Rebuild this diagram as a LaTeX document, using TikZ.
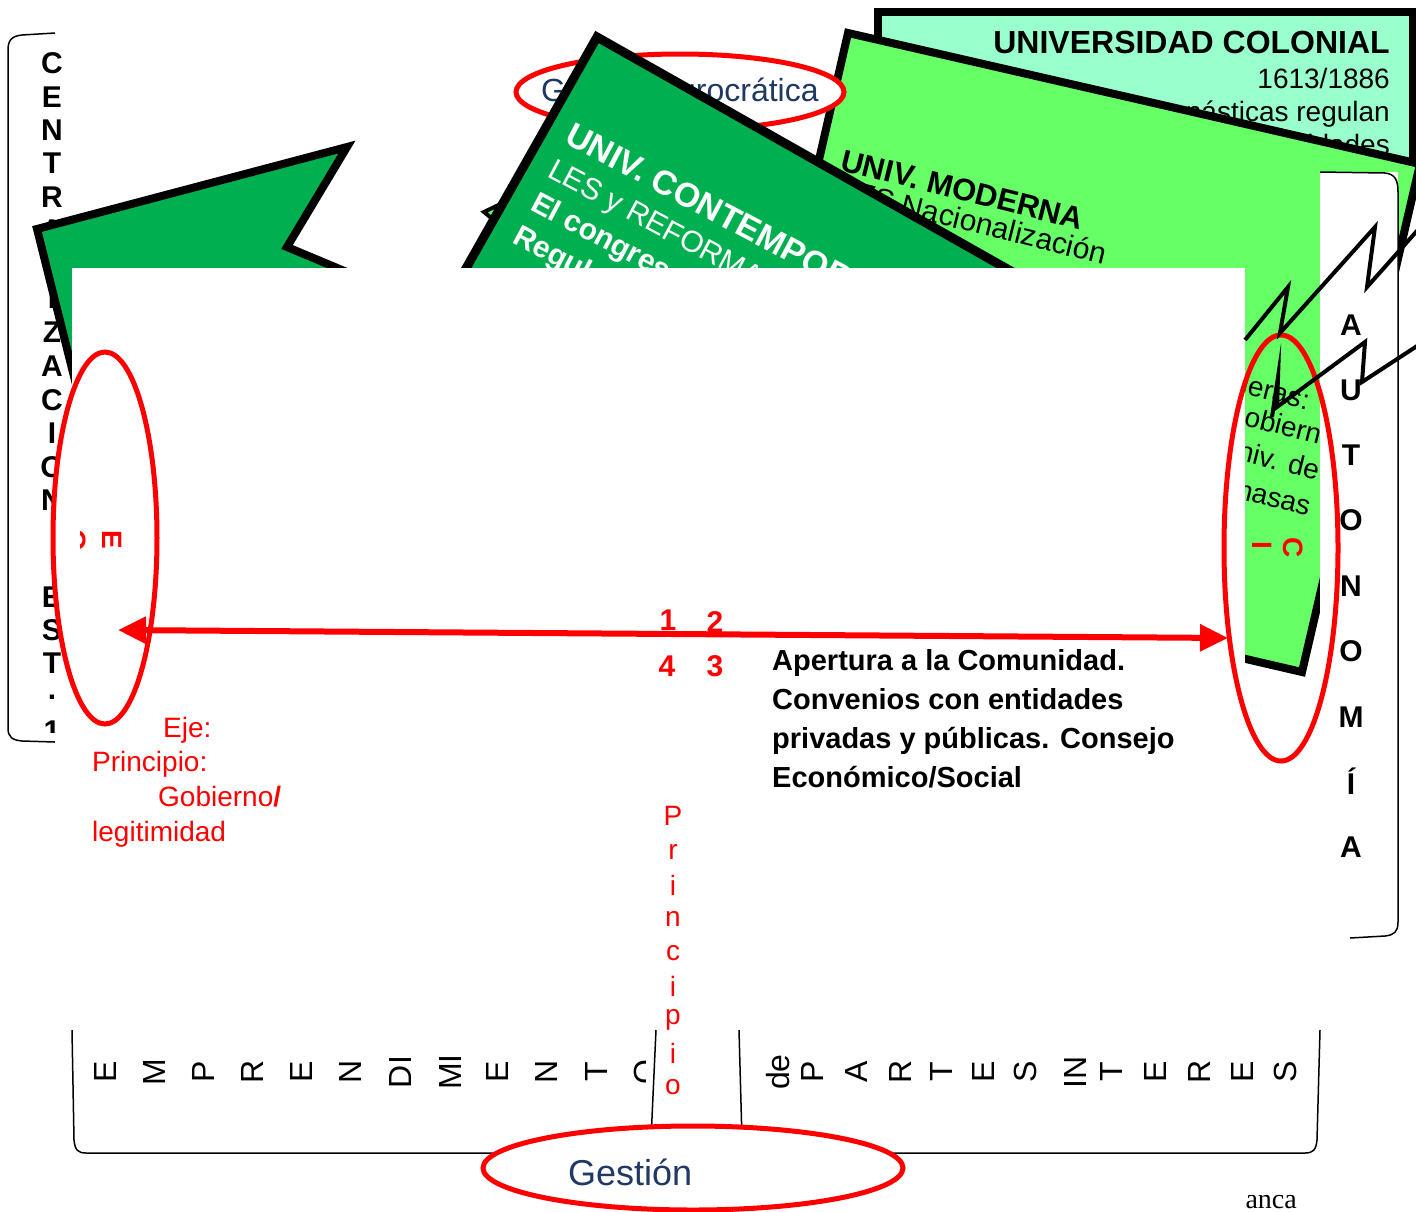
\documentclass[tikz,border=0pt]{standalone}
\usepackage{fontspec}
\setmainfont{Liberation Sans}
\newfontfamily\timesFont{Liberation Serif}
\usetikzlibrary{arrows.meta}

\definecolor{colonialGreen}{RGB}{153,255,204}
\definecolor{modernaGreen}{RGB}{102,255,102}
\definecolor{contempGreen}{RGB}{0,176,80}
\definecolor{gestionBlue}{RGB}{31,56,100}

\begin{document}
\begin{tikzpicture}[x=1pt,y=-1pt,%%
  cardDecorate/.style={draw=black,line width=8pt,line join=miter},%%
  ringDecorate/.style={draw=red,line width=5pt},%%
  bracketDecorate/.style={draw=black,line width=1.5pt},%%
  boltDecorate/.style={draw=black,line width=4pt,line join=miter,miter limit=25},%%
  arrowDecorate/.style={draw=red,line width=6pt,%%
    {Triangle[length=28pt,width=26pt]}-{Triangle[length=28pt,width=26pt]}},%%
  letterDecorate/.style={inner sep=0pt,font=\fontsize{30}{30}\selectfont\bfseries},%%
  lowLetterDecorate/.style={inner sep=0pt,rotate=90,font=\fontsize{32}{32}\selectfont},%%
  redDecorate/.style={inner sep=0pt,text=red,font=\fontsize{28}{28}\selectfont},%%
  cardText/.style={inner sep=0pt,font=\fontsize{28}{28}\selectfont}%%
]
\useasboundingbox (0,0) rectangle (1416,1211);
%%
%% Global variables.
\pgfmathsetmacro{\centX}{52}
\pgfmathsetmacro{\autoX}{1351}
\pgfmathsetmacro{\lowY}{1072}
\pgfmathsetmacro{\prinX}{673}
%%
%% Left bracket: centralizacion.
\draw[bracketDecorate] (55,33) -- (22,35) .. controls (12,36) and (8,40) .. (8,50)
  -- (8,728) .. controls (8,737) and (12,740) .. (22,741) -- (55,742);
\begin{scope}
\clip (0,0) rectangle (100,732);
\foreach \y/\ell in {63/C,97/E,130/N,163/T,197/R,230/A,264/L,298/I,332/Z,366/A,
  400/C,433/I,467/O,500/N,597/E,630/S,663/T,697/.,731/1} {
  \node[letterDecorate] (cent\y) at (\centX,\y) {\ell};
}
\end{scope}
%%
%% Universidad colonial.
\draw[cardDecorate,fill=colonialGreen] (878,12) rectangle (1413,168);
\node[cardText,anchor=base east,font=\fontsize{32}{32}\selectfont\bfseries]
  (colonialTitle) at (1390,53) {UNIVERSIDAD COLONIAL};
\node[cardText,anchor=base east] (colonialYear) at (1390,88) {1613/1886};
\node[cardText,anchor=base east] (colonialLineA) at (1390,121) {monásticas regulan};
\node[cardText,anchor=base east] (colonialLineB) at (1390,154) {universidades};
%%
%% Universidad moderna.
\draw[cardDecorate,fill=modernaGreen] (848,33) -- (1420,164) -- (1302,672) -- (732,540) -- cycle;
\node[cardText,anchor=base west,rotate=-14,font=\fontsize{31}{31}\selectfont\bfseries]
  (modernaTitle) at (839,170) {UNIV. MODERNA};
\node[cardText,anchor=base east,rotate=-14,font=\fontsize{30}{30}\selectfont]
  (modernaLineA) at (1104,265) {LES Nacionalización};
\node[cardText,anchor=base west,rotate=-14,font=\fontsize{30}{30}\selectfont]
  (modernaLineB) at (822,244) {Estudiantes con};
\node[cardText,anchor=base east,rotate=-14] (modernaLineC) at (1307,410) {Banderas:};
\node[cardText,anchor=base east,rotate=-14] (modernaLineD) at (1334,448) {Cogobierno};
\node[cardText,anchor=base east,rotate=-14] (modernaLineE) at (1317,480) {Univ. de};
\node[cardText,anchor=base east,rotate=-14] (modernaLineF) at (1308,516) {masas};
%%
%% Gestion burocratica.
\draw[ringDecorate,fill=white] (680,92) ellipse [x radius=164pt, y radius=38pt];
\node[cardText,anchor=base west,text=gestionBlue,font=\fontsize{32}{32}\selectfont]
  (gestionTop) at (541,101) {Gestión burocrática};
%%
%% Small card behind.
\draw[cardDecorate,line width=4pt,fill=modernaGreen] (484,212) -- (540,185) -- (530,250) -- cycle;
%%
%% Universidad contemporanea.
\draw[cardDecorate,line width=9pt,fill=contempGreen] (597,37) -- (1163,357) -- (966,705) -- (400,385) -- cycle;
\node[cardText,anchor=base west,rotate=-28,text=white,font=\fontsize{34}{34}\selectfont\bfseries]
  (contempTitle) at (563,142) {UNIV. CONTEMPORÁNEA};
\node[cardText,anchor=base west,rotate=-28,text=white,font=\fontsize{30}{30}\selectfont]
  (contempLineA) at (546,176) {LES y REFORMA};
\node[cardText,anchor=base west,rotate=-28,text=white,font=\fontsize{30}{30}\selectfont\bfseries]
  (contempLineB) at (529,209) {El congreso};
\node[cardText,anchor=base west,rotate=-28,text=white,font=\fontsize{30}{30}\selectfont\bfseries]
  (contempLineC) at (511,242) {Regula};
%%
%% Left flag shape.
\draw[cardDecorate,fill=contempGreen] (37,229) -- (347,147) -- (287,247) -- (440,311) -- (110,520) -- cycle;
%%
%% Blank sheet over the middle.
\fill[white] (72,268) rectangle (1245,720);
%%
%% Right bracket: autonomia.
\fill[white] (1320,172) rectangle (1398,938);
\draw[bracketDecorate] (1320,172) -- (1385,173) .. controls (1395,174) and (1398,180) .. (1398,192)
  -- (1398,922) .. controls (1398,932) and (1394,935) .. (1385,936) -- (1350,938);
\foreach \y/\ell in {325/A,390/U,455/T,520/O,586/N,651/O,717/M,781/Í,847/A} {
  \node[letterDecorate] (auto\y) at (\autoX,\y) {\ell};
}
%%
%% Red marks inside the rings.
\node[redDecorate,rotate=-90,font=\fontsize{28}{28}\selectfont\bfseries] (markC) at (1293,548) {C};
\node[redDecorate,rotate=-90,font=\fontsize{28}{28}\selectfont\bfseries] (markI) at (1262,545) {I};
\draw[ringDecorate] (1281,548) ellipse [x radius=57pt, y radius=213pt];
%%
%% Lightning bolts.
\draw[boltDecorate] (1245,340) -- (1288,287) -- (1280,333) -- (1375,227) -- (1367,287) -- (1440,205);
\draw[boltDecorate] (1272,417) -- (1278,377) -- (1277,407) -- (1365,342) -- (1362,382) -- (1440,331);
%%
%% Left ring.
\draw[ringDecorate,fill=white] (105,538) ellipse [x radius=52pt, y radius=186pt];
\node[redDecorate,rotate=-90,font=\fontsize{28}{28}\selectfont\bfseries] (markE) at (112,540) {E};
\begin{scope}
\clip (80,520) rectangle (100,560);
\node[redDecorate,rotate=-90,font=\fontsize{28}{28}\selectfont\bfseries] (markO) at (76,540) {O};
\end{scope}
%%
%% Quadrant numbers.
\node[redDecorate,font=\fontsize{30}{30}\selectfont\bfseries] (numA) at (668,620) {1};
\node[redDecorate,font=\fontsize{30}{30}\selectfont\bfseries] (numB) at (715,622) {2};
\node[redDecorate,font=\fontsize{30}{30}\selectfont\bfseries] (numD) at (667,666) {4};
\node[redDecorate,font=\fontsize{30}{30}\selectfont\bfseries] (numC) at (715,666) {3};
%%
%% Axis arrow.
\coordinate (axisL) at (118,630);
\coordinate (axisR) at (1228,638);
\draw[arrowDecorate] (axisL) -- (axisR);
%%
%% Apertura text.
\foreach \y/\n/\txt in {670/A/{Apertura a la Comunidad.},709/B/{Convenios con entidades},
  748/C/{privadas y públicas. Consejo}} {
  \node[cardText,anchor=base west,font=\fontsize{29}{29}\selectfont\bfseries] (apertura\n) at (772,\y) {\txt};
}
\node[cardText,anchor=base west,font=\fontsize{29}{29}\selectfont\bfseries] (aperturaD) at (772,787) {Económico/Social};
%%
%% Eje labels.
\node[redDecorate,anchor=base west] (ejeA) at (163,737) {Eje:};
\node[redDecorate,anchor=base west] (ejeB) at (92,771) {Principio:};
\node[redDecorate,anchor=base west] (ejeC) at (158,806) {Gobierno\textbf{/}};
\node[redDecorate,anchor=base west] (ejeD) at (92,841) {legitimidad};
%%
%% Vertical principio.
\foreach \y/\ell in {816/P,852/r,885/i,919/n,953/c,986/i,1020/p,1053/i,1087/o} {
  \node[redDecorate] (prin\y) at (\prinX,\y) {\ell};
}
%%
%% Bottom brackets.
\draw[bracketDecorate] (72,1030) -- (74,1140) .. controls (75,1150) and (78,1153) .. (86,1153)
  -- (640,1153) .. controls (648,1153) and (650,1150) .. (651,1140) -- (656,1030);
\draw[bracketDecorate] (739,1030) -- (742,1140) .. controls (743,1150) and (746,1153) .. (754,1153)
  -- (1305,1153) .. controls (1313,1153) and (1316,1150) .. (1317,1140) -- (1320,1030);
\begin{scope}
\clip (72,1000) rectangle (645,1150);
\foreach \x/\ell in {105/E,154/M,203/P,252/R,301/E,350/N,400/DI,450/MI,497/E,546/N,596/T,645/O} {
  \node[lowLetterDecorate] (emp\x) at (\x,\lowY) {\ell};
}
\end{scope}
\foreach \x/\ell in {778/de,812/P,856/A,900/R,941/T,983/E,1025/S,1075/IN,1111/T,1155/E,1199/R,1242/E,1285/S} {
  \node[lowLetterDecorate] (par\x) at (\x,\lowY) {\ell};
}
%%
%% Gestion.
\draw[ringDecorate,fill=white] (693,1168) ellipse [x radius=210pt, y radius=42pt];
\node[cardText,anchor=base west,text=gestionBlue,font=\fontsize{36}{36}\selectfont]
  (gestionLow) at (568,1185) {Gestión};
%%
%% Cut footer.
\begin{scope}
\clip (1245,1170) rectangle (1416,1211);
\node[cardText,anchor=base east,font=\timesFont\fontsize{28}{28}\selectfont] (footer) at (1297,1208) {Salamanca};
\end{scope}
\end{tikzpicture}
\end{document}
